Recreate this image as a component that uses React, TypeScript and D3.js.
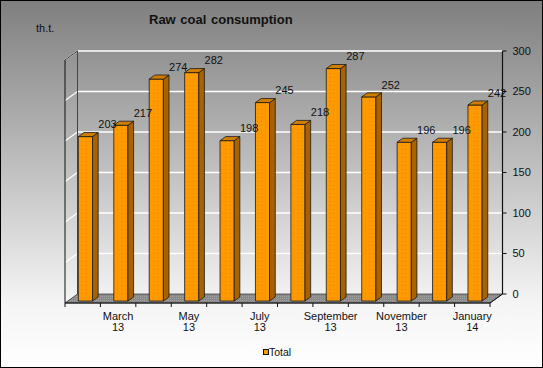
import React from "react";
import { scaleBand, scaleLinear } from "d3";

const months = ["February", "March", "April", "May", "June", "July", "August", "September", "October", "November", "December", "January"];
const years = ["13", "13", "13", "13", "13", "13", "13", "13", "13", "13", "13", "14"];
const totals = [203, 217, 274, 282, 198, 245, 218, 287, 252, 196, 196, 242];
const yTicks = [0, 50, 100, 150, 200, 250, 300];
const seriesName = "Total";

const W = 543;
const H = 368;
// 3D depth offset of the back wall relative to the front plane
const DX = 12.5;
const DY = 9;
const FONT = "Arial, 'Liberation Sans', sans-serif";

export default function App() {
  const x = scaleBand<number>()
    .domain(totals.map((_, i) => i))
    .range([65, 490]);
  const y = scaleLinear().domain([0, 300]).range([303, 60]);

  const p = (px: number, v: number, z: number) => [px + DX * z, y(v) - DY * z];
  const pts = (arr: number[][]) => arr.map((a) => a.join(",")).join(" ");

  const x0 = x.range()[0];
  const x1 = x.range()[1];
  const bw = x.bandwidth() * 0.4;
  const z0 = 0.22;
  const z1 = 0.67;

  return (
    <div style={{ position: "fixed", left: 0, top: 0 }}>
      <svg width={W} height={H} style={{ display: "block", fontFamily: FONT }}>
        <defs>
          <linearGradient id="bg" x1="0" x2="0" y1="0" y2="1">
            <stop offset="0%" stopColor="#7f7f7f" />
            <stop offset="30%" stopColor="#a9a9a9" />
            <stop offset="82%" stopColor="#f4f4f4" />
            <stop offset="100%" stopColor="#ffffff" />
          </linearGradient>
          <pattern id="dots" width="4" height="4" patternUnits="userSpaceOnUse">
            <rect width="4" height="4" fill="#ff9900" />
            <rect x="1" y="1" width="1" height="1" fill="#e58a10" />
          </pattern>
          <pattern id="floor" width="2" height="2" patternUnits="userSpaceOnUse">
            <rect width="2" height="2" fill="#8a8a8a" />
            <rect width="1" height="1" fill="#a0a0a0" />
          </pattern>
        </defs>
        <rect x={0.5} y={0.5} width={W - 1} height={H - 1} fill="url(#bg)" stroke="#000" />

        <text x={149} y={24} fontSize={13} fontWeight="bold" fill="#111" wordSpacing={1}>
          Raw coal consumption
        </text>
        <text x={36} y={32} fontSize={11} fill="#111">
          th.t.
        </text>

        {/* left wall grid */}
        {yTicks.map((t) => {
          const a = p(x0, t, 0);
          const b = p(x0, t, 1);
          return <line key={"lw" + t} x1={a[0]} y1={a[1]} x2={b[0]} y2={b[1]} stroke="#fff" strokeWidth={1.2} />;
        })}
        {/* back wall grid */}
        {yTicks.map((t) => {
          const a = p(x0, t, 1);
          const b = p(x1, t, 1);
          return <line key={"bw" + t} x1={a[0]} y1={a[1]} x2={b[0]} y2={b[1]} stroke="#fff" strokeWidth={1.5} />;
        })}
        <line x1={p(x0, 0, 1)[0]} y1={p(x0, 0, 1)[1]} x2={p(x0, 300, 1)[0]} y2={p(x0, 300, 1)[1]} stroke="#444" />
        <polyline points={pts([p(x0, 300, 0), p(x0, 300, 1)])} fill="none" stroke="#333" />

        {/* floor */}
        <polygon
          points={pts([p(x0, 0, 0), p(x1, 0, 0), p(x1, 0, 1), p(x0, 0, 1)])}
          fill="url(#floor)"
          stroke="#333"
          strokeWidth={0.8}
        />

        {/* bars */}
        {totals.map((v, i) => {
          const cx = x(i)! + x.bandwidth() / 2;
          const l = cx - bw / 2;
          const r = cx + bw / 2;
          const front = [p(l, 0, z0), p(r, 0, z0), p(r, v, z0), p(l, v, z0)];
          const side = [p(r, 0, z0), p(r, 0, z1), p(r, v, z1), p(r, v, z0)];
          const top = [p(l, v, z0), p(r, v, z0), p(r, v, z1), p(l, v, z1)];
          return (
            <g key={i} stroke="#1a1a1a" strokeWidth={0.8} strokeLinejoin="round">
              <polygon points={pts(front)} fill="url(#dots)" />
              <polygon points={pts(side)} fill="#a86300" />
              <polygon points={pts(top)} fill="#cf7e00" />
            </g>
          );
        })}

        {/* left wall front edge & x axis */}
        <line x1={x0} y1={y(0)} x2={x0} y2={y(300)} stroke="#111" />
        <line x1={x0} y1={y(0)} x2={x1} y2={y(0)} stroke="#111" />
        <line x1={x1} y1={y(0)} x2={p(x1, 0, 1)[0]} y2={p(x1, 0, 1)[1]} stroke="#111" />
        {totals.map((_, i) => (
          <line key={"xt" + i} x1={x(i)!} x2={x(i)!} y1={y(0)} y2={y(0) + 4} stroke="#111" />
        ))}
        <line x1={x1} x2={x1} y1={y(0)} y2={y(0) + 4} stroke="#111" />

        {/* x labels, every other month */}
        {months.map((m, i) =>
          i % 2 === 1 ? (
            <text key={"xl" + i} x={x(i)! + x.bandwidth() / 2} textAnchor="middle" fontSize={11} fill="#111">
              <tspan y={320}>{m}</tspan>
              <tspan x={x(i)! + x.bandwidth() / 2} y={331}>
                {years[i]}
              </tspan>
            </text>
          ) : null,
        )}

        {/* right value axis on back wall */}
        <line x1={p(x1, 0, 1)[0]} x2={p(x1, 300, 1)[0]} y1={p(x1, 0, 1)[1]} y2={p(x1, 300, 1)[1]} stroke="#111" strokeWidth={1.2} />
        {yTicks.map((t) => {
          const a = p(x1, t, 1);
          return (
            <g key={"yt" + t}>
              <line x1={a[0]} x2={a[0] + 4} y1={a[1]} y2={a[1]} stroke="#111" />
              <text x={a[0] + 10} y={a[1]} dy="0.35em" fontSize={11} fill="#111">
                {t}
              </text>
            </g>
          );
        })}

        {/* value labels */}
        {totals.map((v, i) => {
          const cx = x(i)! + x.bandwidth() / 2;
          const tp = p(cx, v, z0);
          return (
            <text key={"vl" + i} x={tp[0] + 22} y={tp[1] - 12} dy="0.35em" textAnchor="middle" fontSize={11} fill="#111">
              {v}
            </text>
          );
        })}

        {/* legend */}
        <rect x={263.5} y={349.5} width={5} height={5} fill="#ff9900" stroke="#111" />
        <text x={269} y={352} dy="0.35em" fontSize={10.5} fill="#111">
          {seriesName}
        </text>
      </svg>
    </div>
  );
}
